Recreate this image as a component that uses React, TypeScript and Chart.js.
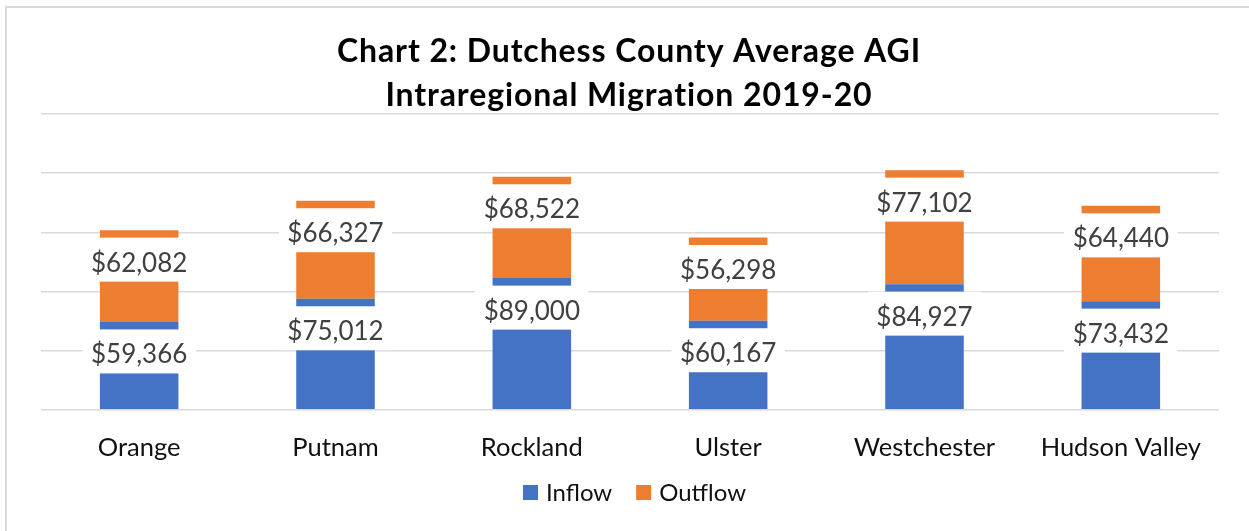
import React, { useEffect, useRef } from 'react';
import { Chart, registerables } from 'chart.js';

Chart.register(...registerables);

const categories = ['Orange', 'Putnam', 'Rockland', 'Ulster', 'Westchester', 'Hudson Valley'];
const inflow = [59366, 75012, 89000, 60167, 84927, 73432];
const outflow = [62082, 66327, 68522, 56298, 77102, 64440];
const seriesNames = ['Inflow', 'Outflow'];
const seriesColors = ['#4472C4', '#ED7D31'];
const titleLines = ['Chart 2: Dutchess County Average AGI', 'Intraregional Migration 2019-20'];
const yMin = 0;
const yMax = 200000;
const yStep = 40000;

const FONT = 'Lato, "Open Sans", sans-serif';

const framePlugin = {
  id: 'frame',
  beforeDraw(chart: any) {
    const ctx = chart.ctx;
    ctx.save();
    ctx.fillStyle = '#ffffff';
    ctx.fillRect(0, 0, chart.width, chart.height);
    ctx.strokeStyle = '#d9d9d9';
    ctx.lineWidth = 2;
    ctx.beginPath();
    ctx.moveTo(6, chart.height);
    ctx.lineTo(6, 7);
    ctx.lineTo(chart.width, 7);
    ctx.stroke();
    ctx.restore();
  },
  afterDraw(chart: any) {
    const ctx = chart.ctx;
    ctx.save();
    // title
    ctx.fillStyle = '#000000';
    ctx.font = `bold 32px ${FONT}`;
    ctx.textAlign = 'center';
    ctx.textBaseline = 'alphabetic';
    try { (ctx as any).letterSpacing = '0.9px'; } catch (e) {}
    ctx.fillText(titleLines[0], 629, 62);
    ctx.fillText(titleLines[1], 629, 106);
    try { (ctx as any).letterSpacing = '0px'; } catch (e) {}
    // legend
    ctx.font = `24px ${FONT}`;
    ctx.textAlign = 'left';
    const items = chart.data.datasets.map((d: any) => ({ label: d.label, color: d.backgroundColor }));
    const box = 15, gapBox = 8, gapItem = 24;
    const widths = items.map((it: any) => box + gapBox + ctx.measureText(it.label).width);
    const total = widths.reduce((a: number, b: number) => a + b, 0) + gapItem * (items.length - 1);
    let x = 634.5 - total / 2;
    items.forEach((it: any, i: number) => {
      ctx.fillStyle = it.color;
      ctx.fillRect(x, 485, box, box);
      ctx.fillStyle = '#111111';
      ctx.fillText(it.label, x + box + gapBox, 501);
      x += widths[i] + gapItem;
    });
    ctx.restore();
  },
};

const labelPlugin = {
  id: 'boxLabels',
  afterDatasetsDraw(chart: any) {
    const ctx = chart.ctx;
    ctx.save();
    ctx.font = `26px ${FONT}`;
    ctx.textAlign = 'center';
    ctx.textBaseline = 'alphabetic';
    chart.data.datasets.forEach((ds: any, di: number) => {
      const meta = chart.getDatasetMeta(di);
      meta.data.forEach((bar: any, i: number) => {
        const v = ds.data[i] as number;
        const txt = '$' + v.toLocaleString('en-US');
        const w = ctx.measureText(txt).width + 17;
        const top = bar.y + 7.5;
        ctx.fillStyle = '#ffffff';
        ctx.fillRect(bar.x - w / 2, top, w, 44);
        ctx.fillStyle = '#404040';
        ctx.fillText(txt, bar.x, top + 34);
      });
    });
    ctx.restore();
  },
};

export default function App() {
  const ref = useRef<HTMLCanvasElement | null>(null);
  useEffect(() => {
    let chart: Chart | null = null;
    let cancelled = false;
    const make = () => {
      if (cancelled || !ref.current) return;
      chart = new Chart(ref.current, {
        type: 'bar',
        data: {
          labels: categories,
          datasets: [
            { label: seriesNames[0], data: inflow, backgroundColor: seriesColors[0], borderWidth: 0 },
            { label: seriesNames[1], data: outflow, backgroundColor: seriesColors[1], borderWidth: 0 },
          ],
        },
        options: {
          animation: false,
          responsive: false,
          devicePixelRatio: 1,
          events: [],
          layout: { padding: { top: 114, left: 41, right: 30, bottom: 44.7 } },
          datasets: { bar: { barPercentage: 0.4, categoryPercentage: 1 } },
          plugins: { legend: { display: false }, title: { display: false }, tooltip: { enabled: false } },
          scales: {
            x: {
              stacked: true,
              grid: { display: false, drawTicks: false },
              border: { display: false },
              ticks: { color: '#111111', font: { family: FONT, size: 25.5 }, padding: 23, maxRotation: 0 },
            },
            y: {
              stacked: true,
              min: yMin,
              max: yMax,
              grid: { color: '#d9d9d9', lineWidth: 1.5, drawTicks: false },
              border: { display: false },
              ticks: { display: false, stepSize: yStep },
            },
          },
        },
        plugins: [framePlugin, labelPlugin],
      });
    };
    const fonts = (document as any).fonts;
    if (fonts && fonts.load) {
      Promise.all([fonts.load(`24px Lato`), fonts.load(`bold 32px Lato`)]).then(make, make);
    } else make();
    return () => {
      cancelled = true;
      if (chart) chart.destroy();
    };
  }, []);
  return (
    <div style={{ position: 'fixed', left: 0, top: 0, width: 1249, height: 531, background: '#fff' }}>
      <canvas ref={ref} width={1249} height={531} style={{ display: 'block', width: 1249, height: 531 }} />
    </div>
  );
}
